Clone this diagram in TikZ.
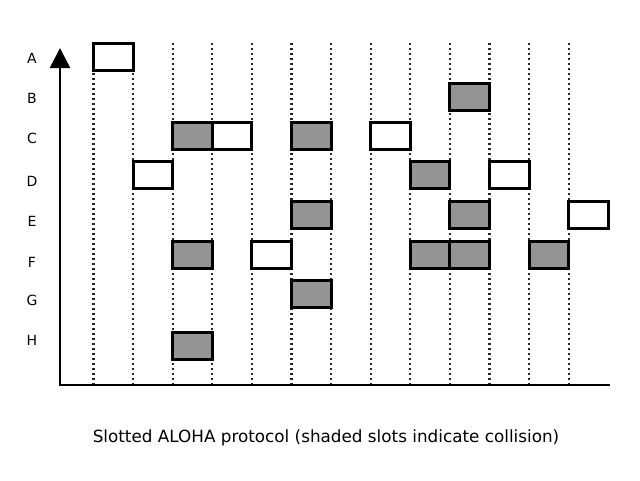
\documentclass[tikz,border=0pt]{standalone}
\usepackage{fontspec}
\setmainfont{DejaVu Sans}
\usetikzlibrary{arrows.meta}

\begin{document}
\begin{tikzpicture}[
  x=1pt, y=-1pt,
  slotline/.style={draw=black!85, line width=2.3pt, dash pattern=on 2.2pt off 2.8pt},
  slotbox/.style={draw=black, line width=3pt, minimum width=39.6pt, minimum height=27pt,
                  inner sep=0pt, outer sep=0pt},
  busy/.style={slotbox, fill=black!42},
  idle/.style={slotbox, fill=white},
  axis/.style={draw=black, line width=2.5pt},
  station/.style={font=\fontsize{14}{16}\selectfont, text=black}
]
\useasboundingbox (0,0) rectangle (640,480);

% station labels
\foreach \name/\y in {A/58, B/98, C/138, D/181, E/221, F/262, G/300, H/340}
  \node[station] (lbl\name) at (32,\y) {\name};

% slot boundaries
\foreach \k in {0,...,12}
  \draw[slotline] ({93.5+39.6*\k},43) -- ({93.5+39.6*\k},385);

% axes
\coordinate (origin) at (60,385);
\coordinate (xend) at (610,385);
\coordinate (yend) at (60,48);
\draw[axis, {Triangle[length=20pt, width=20pt]}-] (yend) -- (origin) -- (xend);

% transmissions: station / row / slot / kind
\foreach \row/\y/\slot/\kind in {A/57/0/idle, B/97/9/busy,
    C/136/2/busy, C/136/3/idle, C/136/5/busy, C/136/7/idle,
    D/175/1/idle, D/175/8/busy, D/175/10/idle,
    E/215/5/busy, E/215/9/busy, E/215/12/idle,
    F/255/2/busy, F/255/4/idle, F/255/8/busy, F/255/9/busy, F/255/11/busy,
    G/294/5/busy, H/346/2/busy}
  \node[\kind] (box\row\slot) at ({93.5+39.6*(\slot+0.5)},\y) {};

\node[font=\fontsize{16.8}{18}\selectfont, text=black] (caption) at (326,438)
  {Slotted ALOHA protocol (shaded slots indicate collision)};

\end{tikzpicture}
\end{document}
